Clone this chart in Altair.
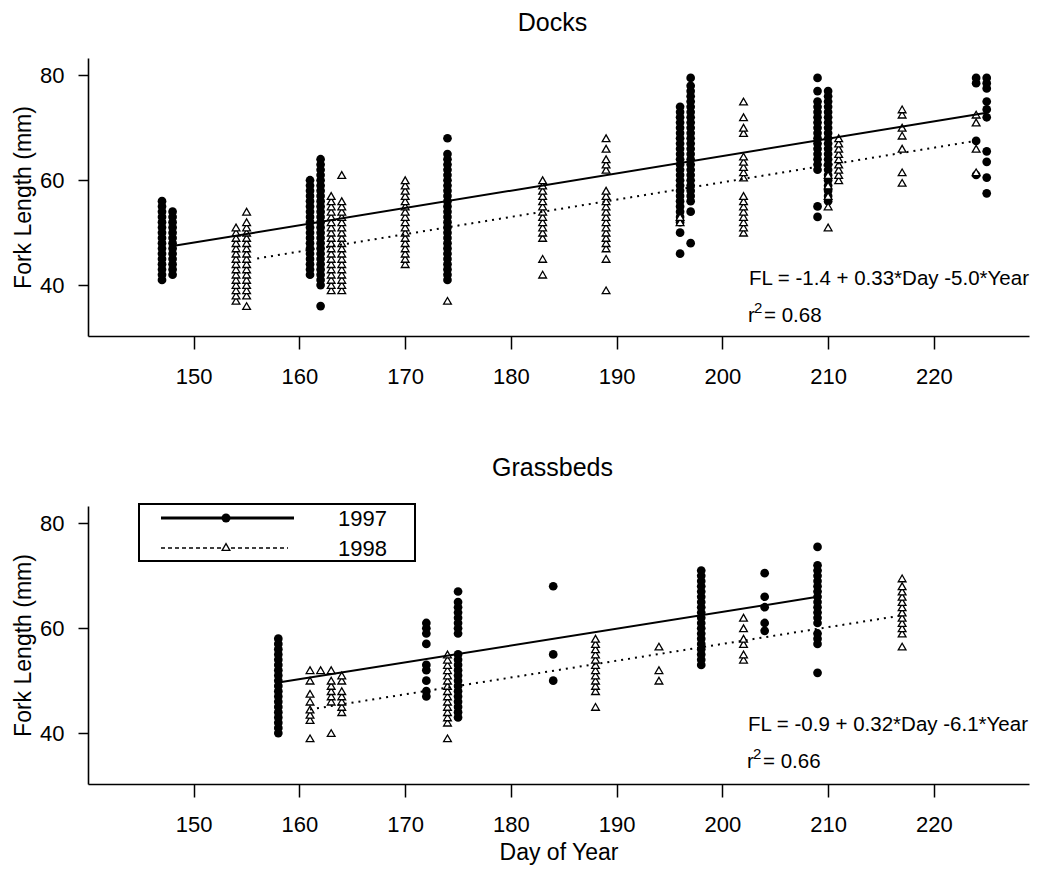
import altair as alt
import pandas as pd

FONT = "Liberation Sans"

X_DOMAIN = [140, 229]
Y_DOMAIN = [30.3, 83.3]
DAY_TICKS = [150, 160, 170, 180, 190, 200, 210, 220]
FL_TICKS = [40, 60, 80]

# ---- Docks, 1997 (filled circles): sampling day and fork lengths (mm) ----
docks97_days = [147, 148, 161, 162, 174, 196, 197, 209, 210, 224, 225]
docks97_fl = [
    [41, 42, 43, 44, 45, 46, 47, 48, 49, 50, 51, 52, 53, 54, 55, 56],
    [42, 43, 44, 45, 46, 47, 48, 49, 50, 51, 52, 53, 54],
    [42, 43, 44, 45, 46, 47, 48, 49, 50, 51, 52, 53, 54, 55, 56, 57, 58, 59, 60],
    [36, 40, 41, 42, 43, 44, 45, 46, 47, 48, 49, 50, 51, 52, 53, 54, 55, 56, 57,
     58, 59, 60, 61, 62, 63, 64],
    [41, 42, 43, 44, 45, 46, 47, 48, 49, 50, 51, 52, 53, 54, 55, 56, 57, 58, 59,
     60, 61, 62, 63, 64, 65, 68],
    [46, 50, 52, 53, 54, 55, 56, 57, 58, 59, 60, 61, 62, 63, 64, 65, 66, 67, 68,
     69, 70, 71, 72, 73, 74],
    [48, 54, 56, 57, 58, 59, 60, 61, 62, 63, 64, 65, 66, 67, 68, 69, 70, 71, 72,
     73, 74, 75, 76, 77, 78, 79.5],
    [53, 55, 62, 63, 64, 65, 66, 67, 68, 69, 70, 71, 72, 73, 74, 75, 77, 79.5],
    [56, 57, 58, 59, 60, 61, 62, 63, 64, 65, 66, 67, 68, 69, 70, 71, 72, 73, 74,
     75, 76, 77],
    [61, 67.5, 78.5, 79.5],
    [57.5, 60.5, 63.5, 65.5, 72, 73.5, 75, 77.5, 78.5, 79.5],
]

# ---- Docks, 1998 (open triangles) ----
docks98_days = [154, 155, 163, 164, 170, 174, 183, 189, 196, 202, 210, 211, 217, 224]
docks98_fl = [
    [37, 38, 39, 40, 41, 42, 43, 44, 45, 46, 47, 48, 49, 50, 51],
    [36, 38, 39, 40, 41, 42, 43, 44, 45, 46, 47, 48, 49, 50, 51, 52, 54],
    [39, 40, 41, 42, 43, 44, 45, 46, 47, 48, 49, 50, 51, 52, 53, 54, 55, 56, 57],
    [39, 40, 41, 42, 43, 44, 45, 46, 47, 48, 49, 50, 51, 52, 53, 54, 55, 56, 61],
    [44, 45, 46, 47, 48, 49, 50, 51, 52, 53, 54, 55, 56, 57, 58, 59, 60],
    [37],
    [42, 45, 49, 50, 51, 52, 53, 54, 55, 56, 57, 58, 59, 60],
    [39, 45, 47, 48, 49, 50, 51, 52, 53, 54, 55, 56, 57, 58, 62, 63, 64, 66, 68],
    [52, 53],
    [50, 51, 52, 53, 54, 55, 56, 57, 60.5, 61.5, 62.5, 63.5, 64.5, 69, 70, 72, 75],
    [51, 55, 57, 59, 61],
    [60, 61, 62, 63, 64, 65, 66, 67, 68],
    [59.5, 61.5, 66, 68.5, 70, 72.5, 73.5],
    [61.5, 66, 71, 72.5],
]

# ---- Grassbeds, 1997 (filled circles) ----
grass97_days = [158, 172, 175, 184, 198, 204, 209]
grass97_fl = [
    [40, 41, 42, 43, 44, 45, 46, 47, 48, 49, 50, 51, 52, 53, 54, 55, 56, 57, 58],
    [47, 48, 50, 52, 53, 57, 59, 60, 61],
    [43, 44, 45, 46, 47, 48, 49, 50, 51, 52, 53, 54, 55, 59, 60, 61, 62, 63, 64,
     65, 67],
    [50, 55, 68],
    [53, 54, 55, 56, 57, 58, 59, 60, 61, 62, 63, 64, 65, 66, 67, 68, 69, 70, 71],
    [59.5, 61, 64, 66, 70.5],
    [51.5, 57, 58, 59, 61, 62, 63, 64, 65, 66, 67, 68, 69, 70, 71, 72, 75.5],
]

# ---- Grassbeds, 1998 (open triangles) ----
grass98_days = [161, 162, 163, 164, 174, 188, 194, 202, 217]
grass98_fl = [
    [39, 42.5, 43.5, 44.5, 46, 47.5, 50, 52],
    [52],
    [40, 46, 47, 48, 49, 50, 52],
    [44, 45, 46, 47, 48, 50, 51],
    [39, 42, 43, 44, 45, 46, 47, 48, 49, 50, 51, 52, 53, 54, 55],
    [45, 48, 49, 50, 51, 52, 53, 54, 55, 56, 57, 58],
    [50, 52, 56.5],
    [54, 55, 57, 58, 60, 62],
    [56.5, 59, 60, 61, 62, 63, 64, 65, 66, 67, 68, 69.5],
]

# ---- Fitted models: FL = a + b*Day + c*Year (Year: 1997 = 0, 1998 = 1) ----
docks_coef = [-1.4, 0.33, -5.0]
grass_coef = [-0.9, 0.32, -6.1]
docks_fit_span = [[148, 225], [156, 224]]
grass_fit_span = [[158, 209], [161, 217]]
docks_eq = ["FL = -1.4 + 0.33*Day -5.0*Year", "0.68"]
grass_eq = ["FL = -0.9 + 0.32*Day -6.1*Year", "0.66"]
years = ["1997", "1998"]


def points_frame(days, fls):
    rows = [{"day": d, "fl": v} for d, vals in zip(days, fls) for v in vals]
    return pd.DataFrame(rows)


def fit_frame(coef, span, year_index):
    a, b, c = coef
    return pd.DataFrame(
        [{"day": d, "fl": a + b * d + c * year_index} for d in span[year_index]]
    )


def encodings(show_x_title):
    x = alt.X(
        "day:Q",
        scale=alt.Scale(domain=X_DOMAIN, nice=False, zero=False),
        axis=alt.Axis(values=DAY_TICKS, title="Day of Year" if show_x_title else None,
                      tickSize=13, labelPadding=17, titlePadding=6),
    )
    y = alt.Y(
        "fl:Q",
        scale=alt.Scale(domain=Y_DOMAIN, nice=False, zero=False),
        axis=alt.Axis(values=FL_TICKS, title="Fork Length (mm)",
                      tickSize=10, labelPadding=14, titlePadding=4),
    )
    return x, y


def text_layer(text, x, y, size=20.5, dy=0):
    return alt.Chart(pd.DataFrame({"t": [text]})).mark_text(
        align="left", baseline="middle", font=FONT, fontSize=size, color="black", dy=dy
    ).encode(x=alt.value(x), y=alt.value(y), text="t:N")


def panel(title, d97_days, d97_fl, d98_days, d98_fl, coef, span, eq,
          show_x_title, eq_xy, legend=False):
    x, y = encodings(show_x_title)
    circles = alt.Chart(points_frame(d97_days, d97_fl)).mark_point(
        shape="circle", filled=True, color="black", size=76, opacity=1
    ).encode(x=x, y=y)
    triangles = alt.Chart(points_frame(d98_days, d98_fl)).mark_point(
        shape="triangle-up", filled=True, fill="white", stroke="black",
        strokeWidth=1.3, size=60, opacity=1
    ).encode(x=x, y=y)
    line97 = alt.Chart(fit_frame(coef, span, 0)).mark_line(
        color="black", strokeWidth=2
    ).encode(x=x, y=y)
    line98 = alt.Chart(fit_frame(coef, span, 1)).mark_line(
        color="black", strokeWidth=2, strokeDash=[2, 5]
    ).encode(x=x, y=y)

    ex, ey = eq_xy
    layers = [
        circles, triangles, line97, line98,
        text_layer(eq[0], ex, ey),
        text_layer("r", ex - 1, ey + 37),
        text_layer("2", ex + 5, ey + 29, size=15),
        text_layer("= " + eq[1], ex + 15, ey + 37),
    ]

    if legend:
        box = alt.Chart(pd.DataFrame({"k": [0]})).mark_rect(
            fill="white", stroke="black", strokeWidth=2
        ).encode(x=alt.value(51), x2=alt.value(327), y=alt.value(-2), y2=alt.value(55))
        key97 = alt.Chart(pd.DataFrame({"k": [0]})).mark_rule(
            color="black", strokeWidth=3
        ).encode(x=alt.value(73), x2=alt.value(206), y=alt.value(12))
        key98 = alt.Chart(pd.DataFrame({"k": [0]})).mark_rule(
            color="black", strokeWidth=1.5, strokeDash=[4, 3]
        ).encode(x=alt.value(73), x2=alt.value(200), y=alt.value(42))
        sym97 = alt.Chart(pd.DataFrame({"k": [0]})).mark_point(
            shape="circle", filled=True, color="black", size=80, opacity=1
        ).encode(x=alt.value(138), y=alt.value(12))
        sym98 = alt.Chart(pd.DataFrame({"k": [0]})).mark_point(
            shape="triangle-up", filled=True, fill="white", stroke="black",
            strokeWidth=1.3, size=60, opacity=1
        ).encode(x=alt.value(138), y=alt.value(41))
        layers += [box, key97, key98, sym97, sym98,
                   text_layer(years[0], 250, 13, size=22),
                   text_layer(years[1], 250, 43, size=22)]

    return alt.layer(*layers).properties(
        width=941,
        height=278,
        title=alt.TitleParams(title, font=FONT, fontSize=25, fontWeight="normal",
                              color="black", frame="group", offset=22, dx=-6),
    )


docks = panel("Docks", docks97_days, docks97_fl, docks98_days, docks98_fl,
              docks_coef, docks_fit_span, docks_eq, False, (661, 221))
grass = panel("Grassbeds", grass97_days, grass97_fl, grass98_days, grass98_fl,
              grass_coef, grass_fit_span, grass_eq, True, (660, 219), legend=True)

chart = alt.vconcat(docks, grass, spacing=69).properties(
    padding={"left": 12, "top": 11, "right": 5, "bottom": 5}
).configure_view(stroke=None).configure_axis(
    grid=False,
    domainColor="black",
    domainWidth=1.6,
    tickColor="black",
    tickWidth=1.5,
    labelFont=FONT,
    labelFontSize=22,
    labelColor="black",
    titleFont=FONT,
    titleFontSize=23,
    titleFontWeight="normal",
    titleColor="black",
)

chart.save("out.html", embed_options={"renderer": "svg", "actions": False})
